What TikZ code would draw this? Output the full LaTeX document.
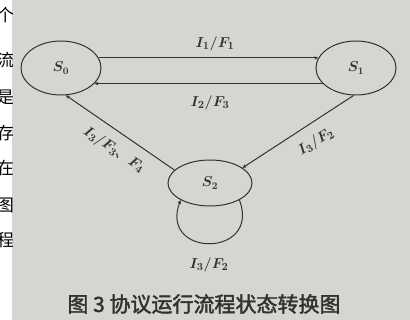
\documentclass[tikz,border=0pt]{standalone}
\usepackage{amsmath}
\usepackage{fontspec}
\newfontfamily\cjk{Noto Sans CJK SC}
\newfontfamily\cjkb[FakeBold=2]{Noto Sans CJK SC}
\usepackage{tikz}
\usetikzlibrary{arrows.meta,shapes.geometric}
\definecolor{paper}{RGB}{214,213,208}
\definecolor{ink}{RGB}{50,50,50}
\tikzset{
  st/.style  ={draw=ink,ellipse,line width=1pt,inner sep=0pt,text=ink,
               minimum width=80pt,minimum height=54pt,font=\fontsize{14}{14}\selectfont\boldmath},
  ar/.style  ={ink,line width=1pt,-{Stealth[length=4pt,width=3.5pt]}},
  lbl/.style ={text=ink,font=\fontsize{15}{15}\selectfont\boldmath,inner sep=1pt},
  title/.style={text=ink,font=\cjkb\fontsize{21}{21}\selectfont,inner sep=0pt},
  side/.style={font=\cjk\fontsize{17}{17}\selectfont,anchor=east,inner sep=0pt},
}

\begin{document}
\begin{tikzpicture}[x=1pt,y=1pt]
  \useasboundingbox (0,0) rectangle (410,-320);
  \fill[white] (0,0) rectangle (12,-320);
  \fill[paper] (12,0) rectangle (410,-320);
  % column of text cut at the left edge
  \begin{scope}
    \clip (0,0) rectangle (12,-320);
    \foreach \y/\c in {15/个,60/流,97/是,133/存,168/在,205/图,240/程}{\node[side] (t\y) at (14,-\y){\c};}
  \end{scope}
  % states
  \node[st] (s0) at (61,-68){$S_0$};
  \node[st] (s1) at (356,-68){$S_1$};
  \node[st,minimum width=84pt,minimum height=46pt] (s2) at (210,-183){$S_2$};
  % transitions
  \draw[ar] (s0.15) -- (s1.165);
  \draw[ar] (s1.-155) -- (s0.-25);
  \draw[ar] (s2.160) -- (s0.-80);
  \draw[ar] (s1.-95) -- (s2.25);
  \draw[ar] (s2.-30) .. controls +(22,-58) and +(-22,-58) .. (s2.-150);
  \node[lbl] (l01) at (215,-44){$I_1/F_1$};
  \node[lbl] (l10) at (210,-103){$I_2/F_3$};
  \node[lbl,rotate=-34] (l20) at (114,-150){$I_3/F_3${\cjk 、}$F_4$};
  \node[lbl,rotate=32] (l12) at (316,-142){$I_3/F_2$};
  \node[lbl] (l22) at (209,-265){$I_3/F_2$};
  \node[title] (fig) at (204,-304){图 3 协议运行流程状态转换图};
\end{tikzpicture}
\end{document}
